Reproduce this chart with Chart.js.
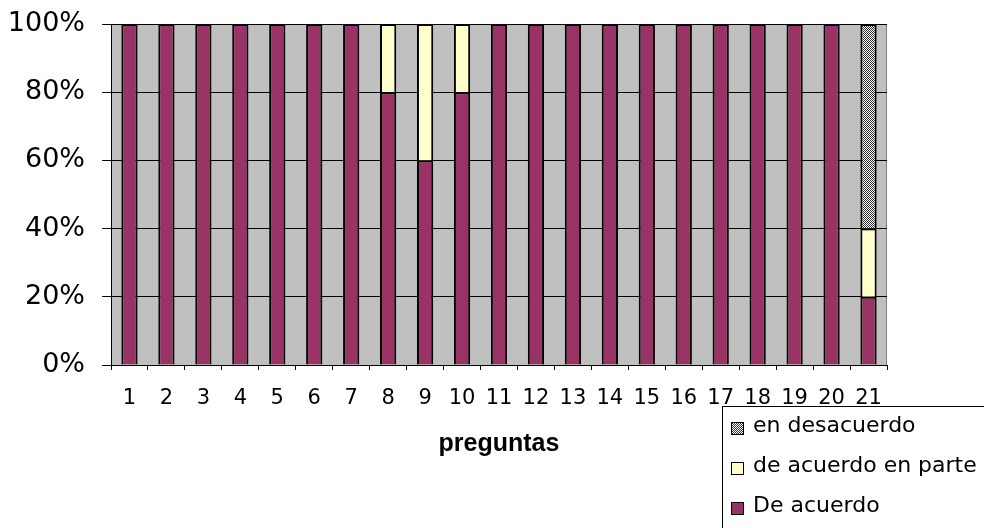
<!DOCTYPE html>
<html>
<head>
<meta charset="utf-8">
<script src="https://cdn.jsdelivr.net/npm/chart.js@4/dist/chart.umd.min.js"></script>
<style>
  body { margin: 0; background: #fff; }
  #wrap { position: relative; width: 984px; height: 528px; overflow: hidden; }
  #legend {
    position: absolute; left: 722px; top: 406px; width: 300px; height: 160px;
    border: 1px solid #000; background: #fff;
    font: 22px "DejaVu Sans", sans-serif; color: #000;
  }
  #legend .row { position: absolute; left: 8px; height: 40px; line-height: 40px; white-space: nowrap; }
  #legend .sw { display: inline-block; width: 11px; height: 11px; border: 1px solid #000;
    vertical-align: -3px; margin-right: 9px; }
</style>
</head>
<body>
<div id="wrap">
  <canvas id="chart" width="984" height="528"></canvas>
  <div id="legend"></div>
</div>
<script>
const preguntas = ['1','2','3','4','5','6','7','8','9','10','11','12','13','14','15','16','17','18','19','20','21'];
const deAcuerdo        = [100,100,100,100,100,100,100,80,60,80,100,100,100,100,100,100,100,100,100,100,20];
const deAcuerdoEnParte = [0,0,0,0,0,0,0,20,40,20,0,0,0,0,0,0,0,0,0,0,20];
const enDesacuerdo     = [0,0,0,0,0,0,0,0,0,0,0,0,0,0,0,0,0,0,0,0,60];
const yTicks = [0, 20, 40, 60, 80, 100];

// fine dither used by Excel for "en desacuerdo"
const pc = document.createElement('canvas');
pc.width = 2; pc.height = 2;
const pctx = pc.getContext('2d');
pctx.fillStyle = '#ffffff'; pctx.fillRect(0, 0, 2, 2);
pctx.fillStyle = '#333333'; pctx.fillRect(0, 0, 1, 1); pctx.fillRect(1, 1, 1, 1);
const hatch = pctx.createPattern(pc, 'repeat');

Chart.defaults.color = '#000';
Chart.defaults.font.family = '"DejaVu Sans", sans-serif';

const plotBg = {
  id: 'plotBg',
  beforeDraw(chart) {
    const { ctx, chartArea: { left, top, right, bottom } } = chart;
    ctx.save();
    ctx.fillStyle = '#c0c0c0';
    ctx.fillRect(left, top, right - left, bottom - top);
    ctx.strokeStyle = '#808080';
    ctx.lineWidth = 1;
    ctx.beginPath();
    ctx.moveTo(left, top + 0.5); ctx.lineTo(right - 0.5, top + 0.5); ctx.lineTo(right - 0.5, bottom);
    ctx.stroke();
    ctx.restore();
  }
};

const chart = new Chart(document.getElementById('chart'), {
  type: 'bar',
  data: {
    labels: preguntas,
    datasets: [
      { label: 'De acuerdo', data: deAcuerdo, backgroundColor: '#993366' },
      { label: 'de acuerdo en parte', data: deAcuerdoEnParte, backgroundColor: '#ffffcc' },
      { label: 'en desacuerdo', data: enDesacuerdo, backgroundColor: hatch }
    ]
  },
  options: {
    responsive: false,
    animation: false,
    layout: { padding: { top: 24, right: 97, bottom: 69, left: 0 } },
    datasets: {
      bar: { borderColor: '#000', borderWidth: 2, categoryPercentage: 1, barPercentage: 0.44 }
    },
    plugins: { legend: { display: false }, tooltip: { enabled: false } },
    scales: {
      x: {
        stacked: true,
        grid: { offset: true, drawOnChartArea: false, drawTicks: true, tickLength: 5, color: '#000' },
        border: { color: '#000', width: 1 },
        ticks: { font: { size: 21 }, padding: 16, maxRotation: 0, autoSkip: false },
        title: { display: true, text: 'preguntas', padding: 0,
          font: { family: '"Liberation Sans", Arial, sans-serif', size: 25, weight: 'bold' } },
        afterFit(s) { s.height = 94; }
      },
      y: {
        stacked: true,
        min: 0, max: 100,
        afterBuildTicks(s) { s.ticks = yTicks.map(v => ({ value: v })); },
        grid: { color: '#000', tickLength: 9 },
        border: { color: '#000', width: 1 },
        ticks: { font: { size: 27 }, padding: 17, callback: v => v + '%' },
        afterFit(s) { s.width = 111; s.paddingTop = 0; s.paddingBottom = 0; }
      }
    }
  },
  plugins: [plotBg]
});

// legend box, Excel order (top of stack first)
const legend = document.getElementById('legend');
chart.data.datasets.slice().reverse().forEach((ds, i) => {
  const row = document.createElement('div');
  row.className = 'row';
  row.style.top = (-2 + i * 40) + 'px';
  const sw = document.createElement('span');
  sw.className = 'sw';
  if (ds.backgroundColor === hatch) sw.style.backgroundImage = 'url(' + pc.toDataURL() + ')';
  else sw.style.background = ds.backgroundColor;
  row.appendChild(sw);
  row.appendChild(document.createTextNode(ds.label));
  legend.appendChild(row);
});
</script>
</body>
</html>
